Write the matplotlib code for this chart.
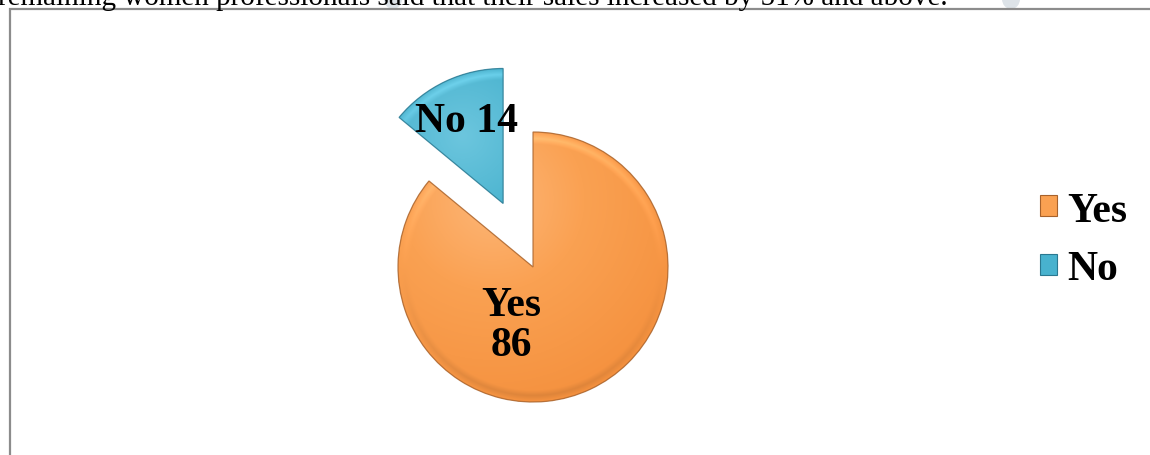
import matplotlib.pyplot as plt
import numpy as np
from matplotlib.patches import Rectangle, PathPatch, Ellipse
from matplotlib.colors import to_rgb

labels = ["Yes", "No"]
values = [86, 14]
colors = ["#faa152", "#48b2ce"]
light = ["#fdb677", "#6cc6de"]
dark = ["#f48f3c", "#3798b5"]
rims = ["#a7622c", "#2a7890"]
explode = [0, 0.52]

W, H = 1150, 456
fig = plt.figure(figsize=(W / 100, H / 100), dpi=100)

# faint marks behind the page text
for x in (393, 1011):
    fig.patches.append(Ellipse((x / W, 1.0), 18 / W, 20 / H, transform=fig.transFigure,
                               facecolor="#dde3e8", edgecolor="none"))

# frame of the chart area
fig.patches.append(Rectangle((10 / W, -0.1), 1.2, (H - 10) / H + 0.1, transform=fig.transFigure,
                             fill=False, edgecolor="#8c8c8c", lw=1.6))

# pie axes: centre at (533, 268) px, radius 135 px
r_px = 135
lim = 1.6
cx, cy = 533, H - 268
side = 2 * lim * r_px
ax = fig.add_axes([(cx - side / 2) / W, (cy - side / 2) / H, side / W, side / H])

wedges, _ = ax.pie(values, colors=colors, explode=explode, startangle=90,
                   counterclock=False, radius=1.0,
                   wedgeprops=dict(linewidth=0))

# soft bevel shading inside each wedge
for w, c0, c1, c2, rim in zip(wedges, light, colors, dark, rims):
    x0, y0 = w.center
    r = w.r
    n = 300
    xs = np.linspace(x0 - r, x0 + r, n)
    ys = np.linspace(y0 - r, y0 + r, n)
    X, Y = np.meshgrid(xs, ys)
    d = np.hypot(X - (x0 - 0.3 * r), Y - (y0 + 0.5 * r)) / (1.7 * r)
    d = np.clip(d, 0, 1)
    a, b, c = np.array(to_rgb(c0)), np.array(to_rgb(c1)), np.array(to_rgb(c2))
    t = d[..., None]
    img = np.where(t < 0.4, a + (b - a) * (t / 0.4), b + (c - b) * ((t - 0.4) / 0.6))
    # light bevel just inside the rim, darker on the lower side
    rd = np.hypot(X - x0, Y - y0) / r
    band = np.clip(1 - np.abs(rd - 0.955) / 0.04, 0, 1)[..., None]
    up = (Y - y0) / r
    img = img + band * 0.10 * np.clip(up, 0, 1)[..., None]
    img = img * (1 - band * 0.10 * np.clip(-up, 0, 1)[..., None])
    img = np.clip(img, 0, 1)
    im = ax.imshow(img, extent=(x0 - r, x0 + r, y0 - r, y0 + r), origin="lower",
                   interpolation="bilinear", zorder=1.5)
    im.set_clip_path(w)
    ax.add_patch(PathPatch(w.get_path(), transform=w.get_transform(), fill=False,
                           edgecolor=rim, lw=0.9, alpha=0.8, zorder=2))

ax.set_xlim(-lim, lim)
ax.set_ylim(-lim, lim)
ax.set_aspect("equal")
ax.axis("off")

serif = "Liberation Serif"
ax.text(-0.16, -0.43, f"{labels[0]}\n{values[0]}", ha="center", va="center",
        fontsize=30, fontweight="bold", family=serif, linespacing=1.05, zorder=3)
ax.text(-0.49, 1.08, f"{labels[1]} {values[1]}", ha="center", va="center",
        fontsize=30, fontweight="bold", family=serif, zorder=3)

leg = fig.legend(wedges, labels, loc="center left", bbox_to_anchor=(1040 / W, 1 - 241 / H),
                 frameon=False, borderpad=0, borderaxespad=0,
                 handlelength=0.4, handleheight=0.4, handletextpad=0.25,
                 labelspacing=0.5, prop=dict(family=serif, weight="bold", size=30))
for h, rim in zip(leg.legend_handles, rims):
    h.set_edgecolor(rim)
    h.set_linewidth(0.8)

# text line from the page above, cut off at the top
fig.text(-2 / W, 1 - 5 / H, "remaining women professionals said that their sales increased by 51% and above.",
         ha="left", va="baseline", fontsize=21, family=serif, color="black")

fig.savefig("out.png", dpi=100, facecolor="white")
